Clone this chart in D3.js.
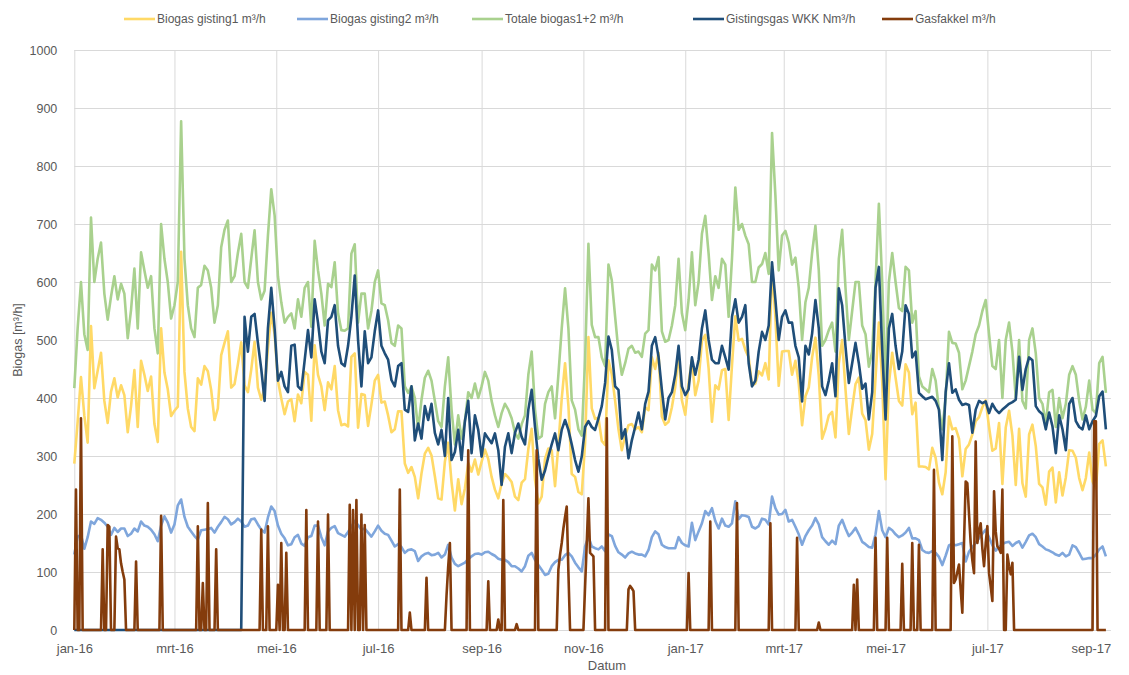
<!DOCTYPE html>
<html>
<head>
<meta charset="utf-8">
<script src="https://cdn.jsdelivr.net/npm/d3@7"></script>
<style>
  body { margin: 0; background: #ffffff; }
  text { font-family: "Liberation Sans", Arial, sans-serif; fill: #595959; }
</style>
</head>
<body>
<div id="my_dataviz"></div>
<script>
// Biogas readings, one value every 2 days starting 1 jan 2016
const firstDay = "2016-01-01";
const stepDays = 2;

const gisting1 = [
  287, 359, 436, 370, 323, 524, 417, 447, 478, 395,
  357, 411, 434, 401, 422, 405, 341, 386, 448, 350,
  464, 440, 412, 437, 355, 324, 520, 444, 415, 369,
  378, 385, 652, 445, 382, 350, 343, 434, 423, 455,
  446, 414, 362, 382, 474, 495, 515, 418, 424, 458,
  496, 422, 410, 449, 497, 418, 397, 417, 486, 547,
  510, 430, 399, 372, 394, 398, 360, 406, 391, 445,
  440, 361, 491, 440, 420, 379, 427, 415, 455, 379,
  353, 355, 351, 471, 477, 349, 407, 405, 352, 389,
  430, 440, 392, 394, 370, 341, 346, 377, 377, 287,
  271, 281, 264, 227, 270, 304, 314, 301, 265, 227,
  225, 290, 323, 255, 206, 260, 217, 244, 288, 273,
  294, 268, 290, 311, 295, 264, 242, 227, 253, 269,
  263, 255, 230, 224, 254, 260, 312, 347, 259, 218,
  230, 295, 313, 310, 248, 319, 399, 460, 387, 269,
  264, 238, 234, 322, 505, 382, 364, 366, 326, 319,
  465, 441, 395, 346, 310, 335, 353, 355, 346, 350,
  341, 384, 379, 470, 450, 478, 368, 354, 359, 384,
  419, 480, 396, 371, 425, 466, 405, 430, 499, 509,
  451, 359, 422, 415, 448, 450, 362, 456, 541, 499,
  502, 483, 470, 422, 425, 446, 439, 460, 432, 627,
  540, 421, 480, 481, 481, 440, 464, 425, 353, 403,
  418, 470, 504, 438, 330, 347, 370, 376, 332, 460,
  500, 415, 338, 382, 424, 435, 373, 362, 311, 338,
  435, 530, 428, 260, 424, 478, 435, 395, 387, 458,
  444, 372, 392, 282, 282, 281, 277, 314, 297, 254,
  234, 272, 368, 346, 348, 330, 265, 312, 320, 337,
  360, 367, 384, 396, 350, 309, 313, 357, 252, 349,
  378, 335, 250, 347, 253, 230, 337, 354, 317, 252,
  246, 216, 273, 280, 220, 272, 232, 263, 310, 309,
  297, 262, 241, 262, 306, 256, 244, 321, 327, 282
];

const gisting2 = [
  130, 161, 164, 140, 160, 187, 183, 193, 190, 185,
  178, 164, 176, 169, 175, 175, 162, 166, 175, 170,
  187, 180, 178, 173, 165, 153, 180, 196, 185, 168,
  182, 215, 225, 195, 178, 170, 162, 156, 172, 173,
  174, 176, 168, 178, 186, 195, 191, 182, 186, 192,
  187, 178, 180, 191, 192, 182, 173, 168, 194, 213,
  205, 180, 166, 158, 146, 148, 160, 164, 149, 145,
  160, 162, 180, 180, 160, 146, 170, 176, 179, 167,
  164, 161, 169, 178, 188, 181, 173, 175, 168, 161,
  170, 180, 171, 166, 164, 154, 144, 148, 143, 133,
  138, 139, 136, 119, 127, 131, 133, 129, 130, 133,
  125, 130, 147, 125, 114, 110, 113, 116, 122, 127,
  131, 132, 130, 134, 135, 131, 128, 123, 121, 121,
  117, 110, 110, 106, 101, 110, 128, 133, 121, 112,
  104, 95, 97, 110, 117, 121, 121, 129, 133, 127,
  116, 108, 101, 144, 161, 144, 141, 139, 144, 136,
  165, 162, 145, 134, 130, 125, 132, 135, 132, 130,
  130, 127, 138, 160, 170, 165, 147, 143, 141, 141,
  141, 160, 150, 146, 144, 185, 155, 170, 184, 205,
  198, 210, 188, 175, 192, 180, 178, 184, 222, 191,
  198, 197, 195, 178, 175, 179, 192, 190, 182, 230,
  210, 199, 200, 207, 187, 190, 178, 165, 147, 162,
  172, 180, 193, 182, 160, 153, 147, 154, 148, 180,
  190, 175, 162, 168, 176, 165, 152, 148, 143, 142,
  165, 205, 172, 160, 176, 172, 165, 160, 163, 168,
  176, 158, 158, 155, 138, 134, 133, 136, 133, 126,
  112, 128, 146, 149, 146, 148, 150, 118, 135, 143,
  150, 158, 166, 173, 160, 146, 137, 143, 148, 151,
  152, 145, 150, 153, 142, 152, 163, 166, 160, 148,
  144, 139, 137, 134, 130, 128, 133, 127, 130, 146,
  143, 133, 122, 123, 124, 124, 130, 139, 144, 127
];

const totaal = [
  417, 520, 600, 510, 483, 711, 600, 640, 668, 580,
  535, 575, 610, 570, 597, 580, 503, 552, 623, 520,
  651, 620, 590, 610, 520, 477, 700, 640, 600, 537,
  560, 600, 877, 640, 560, 520, 505, 590, 595, 628,
  620, 590, 530, 560, 660, 690, 706, 600, 610, 650,
  683, 600, 590, 640, 689, 600, 570, 585, 680, 760,
  715, 610, 565, 530, 540, 546, 520, 570, 540, 590,
  600, 523, 671, 620, 580, 525, 597, 591, 634, 546,
  517, 516, 520, 649, 665, 530, 580, 580, 520, 550,
  600, 620, 563, 560, 534, 495, 490, 525, 520, 420,
  409, 420, 400, 346, 397, 435, 447, 430, 395, 360,
  350, 420, 470, 380, 320, 370, 330, 360, 410, 400,
  425, 400, 420, 445, 430, 395, 370, 350, 374, 390,
  380, 365, 340, 330, 355, 370, 440, 480, 380, 330,
  334, 390, 410, 420, 365, 440, 520, 589, 520, 396,
  380, 346, 335, 466, 666, 526, 505, 505, 470, 455,
  630, 603, 540, 480, 440, 460, 485, 490, 478, 480,
  471, 511, 517, 630, 620, 643, 515, 497, 500, 525,
  560, 640, 546, 517, 569, 651, 560, 600, 683, 714,
  649, 569, 610, 590, 640, 630, 540, 640, 763, 690,
  700, 680, 665, 600, 600, 625, 631, 650, 614, 857,
  750, 620, 680, 688, 668, 630, 642, 590, 500, 565,
  590, 650, 697, 620, 490, 500, 517, 530, 480, 640,
  690, 590, 500, 550, 600, 600, 525, 510, 454, 480,
  600, 735, 600, 420, 600, 650, 600, 555, 550, 626,
  620, 530, 550, 437, 420, 415, 410, 450, 430, 380,
  346, 400, 514, 495, 494, 478, 415, 430, 455, 480,
  510, 525, 550, 569, 510, 455, 450, 500, 400, 500,
  530, 480, 400, 500, 395, 382, 500, 520, 477, 400,
  390, 355, 410, 414, 350, 400, 365, 390, 440, 455,
  440, 395, 363, 385, 430, 380, 374, 460, 471, 409
];

// WKK metering only starts mid april 2016
const wkk = [
  0, 0, 0, 0, 0, 0, 0, 0, 0, 0,
  0, 0, 0, 0, 0, 0, 0, 0, 0, 0,
  0, 0, 0, 0, 0, 0, 0, 0, 0, 0,
  0, 0, 0, 0, 0, 0, 0, 0, 0, 0,
  0, 0, 0, 0, 0, 0, 0, 0, 0, 0,
  0, 540, 480, 540, 545, 495, 450, 395, 520, 590,
  520, 430, 445, 420, 410, 490, 492, 420, 414, 465,
  517, 470, 570, 530, 480, 460, 534, 540, 560, 490,
  460, 455, 490, 540, 611, 500, 420, 515, 460, 470,
  515, 551, 490, 477, 466, 431, 420, 455, 460, 380,
  376, 420, 327, 356, 330, 386, 362, 390, 340, 320,
  345, 300, 400, 293, 307, 345, 293, 360, 395, 305,
  370, 345, 299, 339, 330, 322, 339, 310, 250, 316,
  339, 305, 340, 356, 333, 320, 380, 414, 350, 295,
  259, 275, 299, 320, 339, 310, 345, 362, 345, 320,
  293, 273, 299, 350, 360, 350, 345, 365, 386, 426,
  506, 483, 420, 414, 330, 346, 296, 327, 350, 375,
  346, 390, 411, 490, 505, 471, 414, 363, 400, 410,
  440, 490, 420, 405, 415, 470, 440, 466, 520, 551,
  500, 466, 460, 460, 490, 470, 449, 540, 570, 530,
  540, 560, 460, 420, 430, 480, 514, 500, 525, 634,
  570, 500, 540, 551, 530, 530, 490, 470, 394, 490,
  475, 511, 569, 520, 420, 405, 430, 460, 403, 589,
  560, 489, 426, 460, 495, 460, 416, 425, 363, 410,
  590, 626, 483, 363, 520, 545, 490, 450, 480, 560,
  545, 470, 480, 409, 403, 398, 400, 402, 395, 380,
  293, 410, 460, 409, 415, 397, 388, 390, 388, 340,
  380, 395, 391, 394, 374, 390, 380, 374, 380, 385,
  390, 393, 397, 471, 414, 450, 470, 465, 386, 377,
  372, 346, 375, 351, 305, 370, 346, 310, 390, 400,
  360, 350, 346, 370, 346, 360, 369, 403, 411, 346
];

// Gas flare: 0 on every day except these (day number counted from 1 jan 2016)
const lastDay = 618;
const fakkelDays = [
  1, 4, 17, 20, 21, 25, 26, 27, 28, 29, 30, 37, 52, 74, 77, 80, 85,
  112, 116, 122, 124, 127, 139, 146, 152, 165, 167, 169, 172, 174, 195,
  201, 211, 223, 224, 225, 236, 248, 254, 257, 265, 277,
  290, 291, 292, 293, 294, 295, 296, 306, 307, 308, 309, 310, 311, 319,
  332, 333, 334, 335, 368, 381, 397, 417, 433, 446, 467, 469, 480, 487,
  496, 502, 506, 515, 526, 527, 528, 529, 530, 531, 532, 533, 534, 535,
  536, 537, 538, 539, 540, 541, 542, 543, 544, 545, 546, 547, 548, 549,
  550, 551, 552, 553, 554, 555, 556, 559, 560, 561, 562, 611, 612
];
const fakkelValues = [
  242, 365, 139, 181, 178, 161, 141, 139, 115, 100, 87, 118, 197, 179, 81, 219, 139,
  173, 179, 78, 150, 133, 207, 187, 199, 216, 207, 224, 199, 181, 242,
  30, 90, 60, 110, 150, 310, 84, 18, 224, 10, 310,
  104, 130, 150, 175, 195, 213, 100, 75, 150, 227, 133, 130, 127, 365,
  70, 76, 72, 67, 98, 187, 219, 184, 159, 13, 78, 87, 159, 159,
  114, 150, 147, 276, 334, 81, 87, 100, 113, 70, 30, 150, 256, 253,
  200, 150, 120, 98, 325, 150, 170, 184, 140, 110, 150, 179, 98, 75,
  50, 239, 170, 144, 140, 133, 242, 130, 110, 96, 116, 360, 360
];

const yTicks = [0, 100, 200, 300, 400, 500, 600, 700, 800, 900, 1000];
const xTickDates = ["2016-01-01", "2016-03-01", "2016-05-01", "2016-07-01", "2016-09-01", "2016-11-01",
  "2017-01-01", "2017-03-01", "2017-05-01", "2017-07-01", "2017-09-01"];
const xTickLabels = ["jan-16", "mrt-16", "mei-16", "jul-16", "sep-16", "nov-16",
  "jan-17", "mrt-17", "mei-17", "jul-17", "sep-17"];

const seriesNames = ["Biogas gisting1 m³/h", "Biogas gisting2 m³/h", "Totale biogas1+2 m³/h",
  "Gistingsgas WKK Nm³/h", "Gasfakkel m³/h"];
const seriesColors = ["#ffd966", "#7fa6dc", "#a9d18e", "#1f4e79", "#843c0c"];

// Set up the svg
const width = 1129, height = 675;
const plot = { left: 74.3, right: 1110.9, top: 50, bottom: 630 };

const svg = d3.select("#my_dataviz").append("svg")
    .attr("width", width)
    .attr("height", height);

const parse = d3.utcParse("%Y-%m-%d");
const start = parse(firstDay);

const x = d3.scaleUtc()
    .domain([start, d3.utcDay.offset(start, 621)])
    .range([plot.left, plot.right]);

const y = d3.scaleLinear()
    .domain([0, 1000])
    .range([plot.bottom, plot.top]);

// Build the point lists
const sampled = values => values.map((v, i) => ({ date: d3.utcDay.offset(start, i * stepDays), value: v }));

const fakkelByDay = new Map(fakkelDays.map((d, i) => [d, fakkelValues[i]]));
const fakkel = d3.range(lastDay + 1).map(d => ({
    date: d3.utcDay.offset(start, d),
    value: fakkelByDay.has(d) ? fakkelByDay.get(d) : 0
}));

const series = [sampled(gisting1), sampled(gisting2), sampled(totaal), sampled(wkk), fakkel];

// Horizontal grid lines
svg.append("g")
    .attr("transform", `translate(${plot.left},0)`)
    .call(d3.axisLeft(y).tickValues(yTicks).tickSize(-(plot.right - plot.left)).tickFormat(""))
    .call(g => g.select(".domain").remove())
    .selectAll("line").attr("stroke", "#d9d9d9");

// Vertical grid lines
svg.append("g")
    .attr("transform", `translate(0,${plot.bottom})`)
    .call(d3.axisBottom(x).tickValues(xTickDates.map(parse)).tickSize(-(plot.bottom - plot.top)).tickFormat(""))
    .call(g => g.select(".domain").remove())
    .selectAll("line").attr("stroke", "#d9d9d9");

// Y tick labels
svg.append("g")
    .attr("transform", `translate(${plot.left},0)`)
    .call(d3.axisLeft(y).tickValues(yTicks).tickSize(0).tickPadding(17).tickFormat(d3.format("d")))
    .call(g => g.select(".domain").remove())
    .selectAll("text")
    .style("font-size", "12.5px")
    .attr("fill", "#595959");

// X tick labels
svg.append("g")
    .attr("transform", `translate(0,${plot.bottom})`)
    .call(d3.axisBottom(x).tickValues(xTickDates.map(parse)).tickSize(0).tickPadding(14)
        .tickFormat((d, i) => xTickLabels[i]))
    .call(g => g.select(".domain").remove())
    .selectAll("text")
    .style("font-size", "13px")
    .attr("fill", "#595959");

// Lines
const line = d3.line()
    .x(d => x(d.date))
    .y(d => y(d.value));

svg.append("g")
    .selectAll("path")
    .data(series)
    .join("path")
    .attr("d", line)
    .attr("fill", "none")
    .attr("stroke", (d, i) => seriesColors[i])
    .attr("stroke-width", 2.6)
    .attr("stroke-linejoin", "round");

// Axis titles
svg.append("text")
    .attr("transform", "translate(22,340) rotate(-90)")
    .attr("text-anchor", "middle")
    .style("font-size", "12.5px")
    .text("Biogas [m³/h]");

svg.append("text")
    .attr("x", 607)
    .attr("y", 670)
    .attr("text-anchor", "middle")
    .style("font-size", "13px")
    .text("Datum");

// Legend
const legendX = [124, 297, 472, 693, 882];
const legend = svg.append("g")
    .selectAll("g")
    .data(seriesNames)
    .join("g")
    .attr("transform", (d, i) => `translate(${legendX[i]},19)`);

legend.append("line")
    .attr("x1", 0)
    .attr("x2", 31)
    .attr("stroke", (d, i) => seriesColors[i])
    .attr("stroke-width", 2.6);

legend.append("text")
    .attr("x", 33)
    .attr("dy", "0.35em")
    .style("font-size", "12px")
    .text(d => d);
</script>
</body>
</html>
